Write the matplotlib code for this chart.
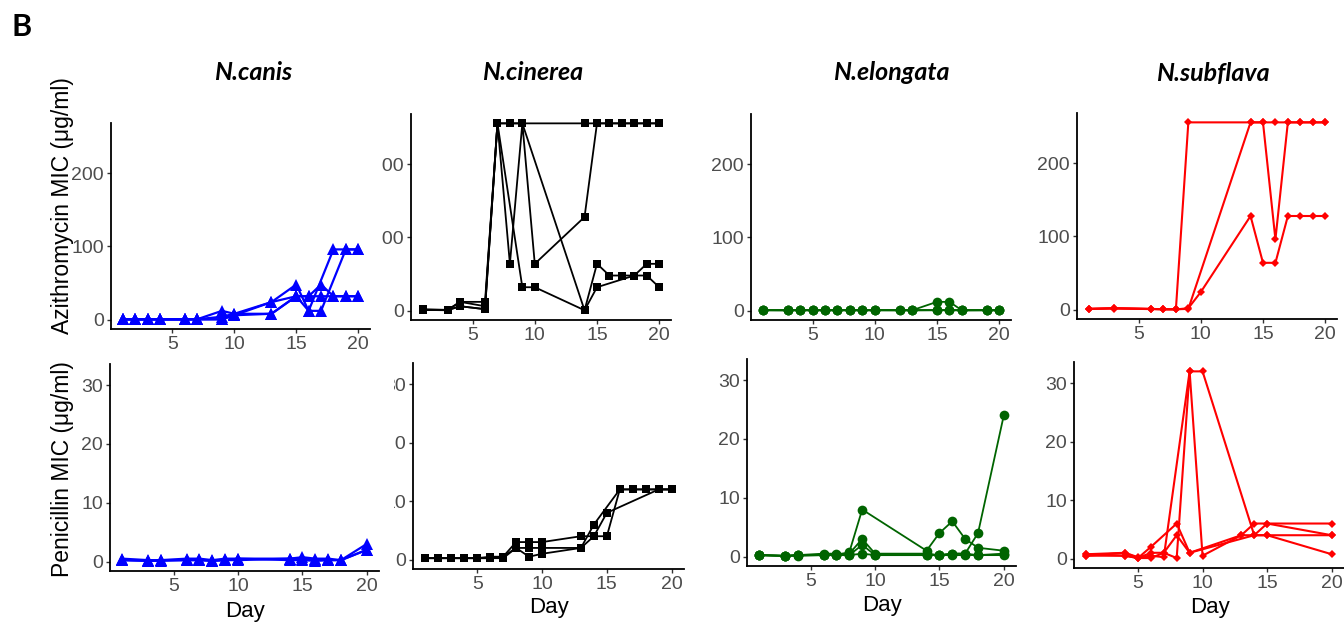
import numpy as np
import matplotlib
matplotlib.use('Agg')
import matplotlib.pyplot as plt
from matplotlib.transforms import Bbox, TransformedBbox

nan = np.nan

species = ['N.canis', 'N.cinerea', 'N.elongata', 'N.subflava']
colors = ['#0000FF', '#000000', '#006400', '#FF0000']
markers = ['^', 's', 'o', 'D']
marker_sizes = [8.5, 5.5, 7, 3.6]
line_widths = [1.6, 1.3, 1.3, 1.5]

# Azithromycin MIC (ug/ml), one row per lineage, nan = not sampled
canis_azm_days = [1, 2, 3, 4, 6, 7, 9, 10, 13, 15, 16, 17, 18, 19, 20]
canis_azm = [
    [0.5, 0.5, 0.5, 0.5, 0.5, 0.5, 12, 8, 24, 48, 12, nan, 96, 96, 96],
    [0.25, 0.25, 0.25, 0.25, 0.25, 0.5, 4, 8, 8, 32, 12, 12, nan, 96, 96],
    [0.5, 0.25, 0.5, 0.25, 0.5, 0.25, 0.5, 6, 24, 32, 32, 48, 32, 32, 32],
    [0.25, 0.5, 0.25, 0.5, 0.25, 0.5, 0.5, 6, 8, 32, 32, 32, 32, 32, 32],
]

cinerea_azm_days = [1, 3, 4, 6, 7, 8, 9, 10, 14, 15, 16, 17, 18, 19, 20]
cinerea_azm = [
    [1, 1, 12, 12, 256, 256, 256, nan, 256, 256, 256, 256, 256, 256, 256],
    [1, 1, 6, 2, 256, 64, 256, 64, 128, 256, 256, 256, 256, 256, 256],
    [2, 1, 12, 6, 256, nan, 32, 32, 0.5, 64, 48, 48, 48, 48, 32],
    [1, 0.5, 6, 2, 256, 256, 256, nan, 0.5, 32, nan, nan, 48, 64, 64],
]

elongata_azm_days = [1, 3, 4, 5, 6, 7, 8, 9, 10, 12, 13, 15, 16, 17, 19, 20]
elongata_azm = [
    [0.5, 0.5, 0.5, 0.5, 0.5, 0.5, 0.5, 0.5, 0.5, 0.5, 0.5, 12, 12, 0.5, 0.5, 0.5],
    [0.25, 0.25, 0.25, 0.25, 0.25, 0.25, 0.25, 0.25, 0.25, 0.25, 0.25, 0.25, 0.25, 0.25, 0.25, 0.25],
    [0.5, 0.25, 0.5, 0.25, 0.5, 0.25, 0.5, 0.25, 0.5, nan, 0.25, 0.5, 0.5, 0.25, 0.5, 0.25],
]

subflava_azm_days = [1, 3, 6, 7, 8, 9, 10, 14, 15, 16, 17, 18, 19, 20]
subflava_azm = [
    [1, 2, 1, 0.5, 0.5, 256, nan, 256, 256, 256, 256, 256, 256, 256],
    [1, 2, 1, 0.5, 0.5, 1, nan, 256, 256, 96, 256, 256, 256, 256],
    [1, 1.5, 0.75, 0.5, 0.25, 2, 24, 128, 64, 64, 128, 128, 128, 128],
]

# Penicillin MIC (ug/ml)
canis_pen_days = [1, 3, 4, 6, 7, 8, 9, 10, 14, 15, 16, 17, 18, 20]
canis_pen = [
    [0.5, 0.25, 0.25, 0.5, 0.5, 0.25, 0.5, 0.5, 0.5, 0.75, 0.5, 0.5, 0.25, 3],
    [0.25, 0.125, 0.125, 0.25, 0.25, 0.125, 0.25, 0.25, 0.5, 0.5, 0.25, 0.25, 0.25, 2],
    [0.25, 0.125, 0.25, 0.25, 0.25, 0.125, 0.25, 0.5, 0.25, 0.25, 0.125, 0.25, 0.25, 2],
]

cinerea_pen_days = [1, 2, 3, 4, 5, 6, 7, 8, 9, 10, 13, 14, 15, 16, 17, 18, 19, 20]
cinerea_pen = [
    [0.25, 0.25, 0.25, 0.25, 0.25, 0.5, 0.5, 3, 3, 3, 4, 4, 4, 12, 12, 12, 12, 12],
    [0.25, 0.25, 0.25, 0.25, 0.25, 0.25, 0.5, 2, 2, 2, 2, 6, nan, 12, 12, 12, 12, 12],
    [0.25, 0.25, 0.25, 0.25, 0.25, 0.25, 0.25, 2, 0.5, 1, 2, 4, 8, nan, nan, nan, 12, 12],
]

elongata_pen_days = [1, 3, 4, 6, 7, 8, 9, 10, 14, 15, 16, 17, 18, 20]
elongata_pen = [
    [0.25, 0.125, 0.25, 0.25, 0.25, 0.75, 8, nan, 1, 4, 6, 3, 1.5, 1],
    [0.25, 0.125, 0.25, 0.5, 0.5, 0.5, 3, 0.5, 0.5, 0.25, 0.5, 0.5, 4, 24],
    [0.25, 0.125, 0.25, 0.25, 0.25, 0.25, 2, 0.25, 0.25, 0.25, 0.5, 0.5, 0.25, 0.5],
    [0.25, 0.125, 0.125, 0.25, 0.25, 0.25, 0.5, 0.25, 0.25, 0.25, 0.25, 0.25, 0.25, 0.25],
]

subflava_pen_days = [1, 4, 5, 6, 7, 8, 9, 10, 13, 14, 15, 20]
subflava_pen = [
    [0.75, 1, 0.25, 0.5, 0.25, nan, 32, 32, nan, 4, 6, 6],
    [0.5, 0.5, 0.1, 1, 1, 0.1, 32, 0.5, 4, nan, 4, 4],
    [0.5, 1, 0.1, 2, nan, 6, 1, nan, 4, 6, 6, 4],
    [0.75, 0.5, 0.1, 0.1, 1, 4, 1, nan, nan, 4, 4, 0.75],
]

azm_days = [canis_azm_days, cinerea_azm_days, elongata_azm_days, subflava_azm_days]
azm_data = [canis_azm, cinerea_azm, elongata_azm, subflava_azm]
pen_days = [canis_pen_days, cinerea_pen_days, elongata_pen_days, subflava_pen_days]
pen_data = [canis_pen, cinerea_pen, elongata_pen, subflava_pen]

# panel boxes in pixels: left, right, top, bottom
top_boxes = [(111, 370, 123, 329), (411, 671, 114, 320),
             (751, 1011, 114, 320), (1077, 1337, 113, 319)]
bottom_boxes = [(110, 379, 364, 571), (413, 684, 363, 569),
                (747, 1016, 359, 566), (1074, 1344, 362, 568)]

W, H = 1344, 626
fig = plt.figure(figsize=(W / 100, H / 100), dpi=100)
plt.rcParams['font.family'] = ['Liberation Sans', 'DejaVu Sans']


def make_ax(box):
    l, r, t, b = box
    return fig.add_axes([l / W, 1 - b / H, (r - l) / W, (b - t) / H])


def style_ax(ax, ylim, yticks):
    ax.set_xlim(0.05, 20.95)
    ax.set_ylim(*ylim)
    ax.set_xticks([5, 10, 15, 20])
    ax.set_yticks(yticks)
    for s in ['top', 'right']:
        ax.spines[s].set_visible(False)
    for s in ['left', 'bottom']:
        ax.spines[s].set_linewidth(1.3)
    ax.tick_params(length=3, width=1, color='#333333', labelcolor='#4D4D4D',
                   labelsize=14, pad=2)
    ax.patch.set_alpha(0)


def clip_ylabels(ax, x0):
    # the cinerea panels have their tick labels cut off on the left
    clip = TransformedBbox(Bbox([[x0 / W, 0], [1, 1]]), fig.transFigure)
    for lab in ax.get_yticklabels():
        lab.set_clip_on(True)
        lab.set_clip_box(clip)


def draw_series(ax, days, series, i):
    days = np.array(days, dtype=float)
    for vals in series:
        vals = np.array(vals, dtype=float)
        ok = ~np.isnan(vals)
        ax.plot(days[ok], vals[ok], color=colors[i], marker=markers[i],
                ms=marker_sizes[i], lw=line_widths[i], mew=0, clip_on=False)


for i in range(4):
    ax = make_ax(top_boxes[i])
    draw_series(ax, azm_days[i], azm_data[i], i)
    style_ax(ax, (-12.8, 268.8), [0, 100, 200])

    ax2 = make_ax(bottom_boxes[i])
    draw_series(ax2, pen_days[i], pen_data[i], i)
    style_ax(ax2, (-1.6, 33.6), [0, 10, 20, 30])

    if i == 1:
        clip_ylabels(ax, 382)
        clip_ylabels(ax2, 394)

# titles
title_x = [253, 533, 891, 1213]
for name, x in zip(species, title_x):
    fig.text(x / W, 1 - 73 / H, name, ha='center', va='center', fontsize=18,
             fontweight='bold', fontstyle='italic', family=['Lato', 'DejaVu Sans'])

fig.text(22 / W, 1 - 27 / H, 'B', ha='center', va='center', fontsize=22,
         fontweight='bold', family=['Lato', 'DejaVu Sans'])

fig.text(63 / W, 1 - 206 / H, 'Azithromycin MIC (μg/ml)', rotation=90,
         ha='center', va='center', fontsize=16.5)
fig.text(62 / W, 1 - 469 / H, 'Penicillin MIC (μg/ml)', rotation=90,
         ha='center', va='center', fontsize=16.5)

day_x = [245, 549, 882, 1210]
day_y = [612, 608, 606, 608]
for x, y in zip(day_x, day_y):
    fig.text(x / W, 1 - y / H, 'Day', ha='center', va='center', fontsize=16)

fig.savefig('out.png', dpi=100)
